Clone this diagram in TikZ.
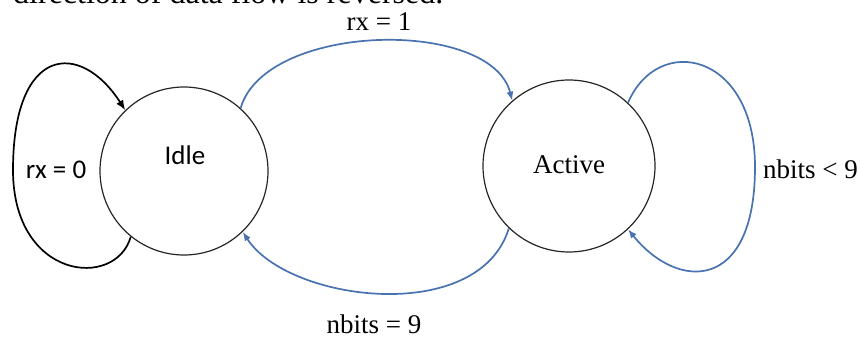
\documentclass[tikz,border=0pt]{standalone}
\usepackage{fontspec}
\setmainfont{Liberation Serif}
\newfontfamily\calib{Carlito}
\usetikzlibrary{arrows.meta}
\definecolor{arcblue}{RGB}{72,114,176}
\tikzset{
  state/.style={circle, draw=black!85, line width=1.2pt, minimum size=#1, inner sep=0pt},
  bluearc/.style={draw=arcblue, line width=1.7pt, -{Latex[length=9pt,width=7pt]}},
  blackarc/.style={draw=black, line width=1.7pt, -{Latex[length=10pt,width=8pt]}},
  serlbl/.style={font=\fontsize{27}{30}\selectfont, inner sep=0pt, anchor=base},
  sanslbl/.style={font=\calib\fontsize{27}{30}\selectfont, inner sep=0pt, anchor=base}
}
\begin{document}
\begin{tikzpicture}[x=1pt,y=-1pt]
\useasboundingbox (0,0) rectangle (861,340);
\node[font=\fontsize{32}{36}\selectfont, inner sep=0pt, anchor=base west] (head) at (13,4) {direction of data flow is reversed.};
\node[state=168pt] (idle) at (184,171) {};
\node[state=172pt] (active) at (569,166) {};
\node[sanslbl] (idlel) at (185,164) {Idle};
\node[serlbl] (activel) at (569,173) {Active};
\node[sanslbl] (rx0) at (56,178) {rx = 0};
\node[serlbl] (rx1) at (379,30) {rx = 1};
\node[serlbl] (nb9) at (374,333) {nbits = 9};
\node[serlbl, anchor=base west] (nblt) at (763,178) {nbits < 9};
\coordinate (aloop) at (755,167);
\coordinate (iloop) at (13,170);
% idle -> active
\draw[bluearc] (idle.48) .. controls +(25,-86) and +(-21,-83) .. (active.131);
% active -> idle
\draw[bluearc] (active.226) .. controls +(-30,98) and +(45,70) .. (idle.314);
% active self loop
\draw[bluearc] (active.47) .. controls +(30,-70) and +(0,-115) .. (aloop)
  .. controls +(0,125) and +(50,62) .. (active.-47);
% idle self loop
\draw[blackarc] (idle.231) .. controls +(-15,53) and +(0,110) .. (iloop)
  .. controls +(0,-125) and +(-45,-70) .. (idle.134);
\end{tikzpicture}
\end{document}
